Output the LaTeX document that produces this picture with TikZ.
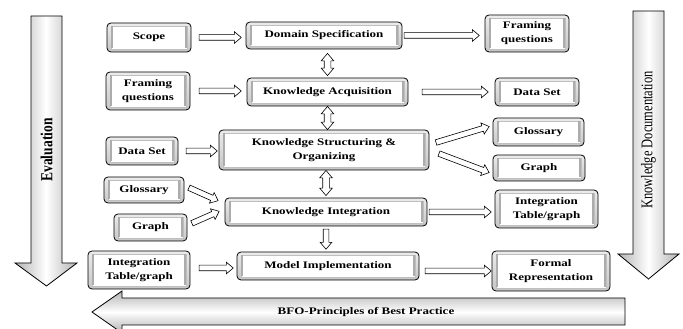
\documentclass[tikz,border=0pt]{standalone}
\usepackage{fontspec}
\setmainfont{Liberation Serif}
\newfontfamily\bfont[FakeStretch=1.3]{Liberation Serif}
\usetikzlibrary{shapes.arrows,calc}
\tikzset{
  box/.style={draw, line width=0.8pt, rounded corners=4pt, top color=gray!15, bottom color=gray!45,
    inner sep=0pt, align=center, font=\bfont\bfseries\fontsize{10}{14}\selectfont,
    path picture={
      \fill[white, sharp corners] ([shift={(4pt,3pt)}]path picture bounding box.south west) rectangle ([shift={(-4pt,-3pt)}]path picture bounding box.north east);
      \draw[gray!50, line width=0.4pt, sharp corners] ([shift={(4pt,3pt)}]path picture bounding box.south west) rectangle ([shift={(-4pt,-3pt)}]path picture bounding box.north east);
      \draw[gray!65, line width=1.8pt, sharp corners] ([shift={(5pt,3.5pt)}]path picture bounding box.south west) -- ([shift={(5pt,-3.5pt)}]path picture bounding box.north west);
      \draw[gray!65, line width=1.8pt, sharp corners] ([shift={(-5pt,3.5pt)}]path picture bounding box.south east) -- ([shift={(-5pt,-3.5pt)}]path picture bounding box.north east);
    }},
  sarr/.style={single arrow, draw, line width=0.6pt, fill=white, inner xsep=0pt, inner ysep=2.5pt,
    single arrow head extend=3pt, single arrow tip angle=80, single arrow head indent=0pt},
  darr/.style={double arrow, draw, line width=0.6pt, fill=white, inner xsep=0pt, inner ysep=3pt,
    double arrow head extend=3pt, double arrow tip angle=80, double arrow head indent=0pt},
  bigv/.style={draw, line width=0.8pt, left color=gray!60, right color=gray!60, middle color=white},
  bigh/.style={draw, line width=0.8pt, top color=gray!60, bottom color=gray!60, middle color=white},
}
\newcommand\blk[4][sarr]{\path let \p1=(#3), \p2=(#4), \n1={atan2(\y2-\y1,\x2-\x1)}, \n2={veclen(\x2-\x1,\y2-\y1)} in node[#1, minimum height=\n2, rotate=\n1] (#2) at ($(\p1)!0.5!(\p2)$) {};}
\begin{document}
\begin{tikzpicture}[x=1pt,y=1pt]
\useasboundingbox[fill=white] (0,0) rectangle (683,329);
% big arrows
\draw[bigv] (31,313) -- (62,313) -- (62,66) -- (77,66) -- (46.5,43) -- (15,66) -- (31,66) -- cycle;
\draw[bigv] (633,318) -- (664,318) -- (664,75) -- (679,75) -- (648.5,50) -- (618,75) -- (633,75) -- cycle;
\draw[bigh] (92,17) -- (122,38) -- (122,31) -- (625,31) -- (625,4) -- (122,4) -- (122,-4) -- cycle;
\node[rotate=90] (ev) at (46.5,179) {\scalebox{1}[1.25]{\fontsize{13.5}{15}\selectfont\bfseries Evaluation}};
\node[rotate=90] (kd) at (648.5,189) {\scalebox{1}[1.3]{\fontsize{12.5}{14}\selectfont Knowledge Documentation}};
\node[font=\bfont\bfseries\fontsize{10}{14}\selectfont] (bfo) at (366,17) {BFO-Principles of Best Practice};
% boxes
\node[box, minimum width=84pt, minimum height=29pt] (scope) at (149,291.5) {Scope};
\node[box, minimum width=156pt, minimum height=27pt] (dom) at (324,293.5) {Domain Specification};
\node[box, minimum width=84pt, minimum height=38pt] (fq1) at (148,238) {Framing\\questions};
\node[box, minimum width=161pt, minimum height=28pt] (acq) at (327.5,237) {Knowledge Acquisition};
\node[box, minimum width=72pt, minimum height=28pt] (ds1) at (142,178) {Data Set};
\node[box, minimum width=210pt, minimum height=40pt] (kso) at (324,179) {Knowledge Structuring \&\\Organizing};
\node[box, minimum width=84pt, minimum height=37pt] (fq2) at (527,295.5) {Framing\\questions};
\node[box, minimum width=84pt, minimum height=28pt] (ds2) at (537,237) {Data Set};
\node[box, minimum width=91pt, minimum height=28pt] (glo2) at (538.5,197) {Glossary};
\node[box, minimum width=92pt, minimum height=26pt] (gr2) at (539,161) {Graph};
\node[box, minimum width=80pt, minimum height=26pt] (glo1) at (144,139) {Glossary};
\node[box, minimum width=73pt, minimum height=27pt] (gr1) at (150.5,101.5) {Graph};
\node[box, minimum width=202pt, minimum height=28pt] (ki) at (326,117) {Knowledge Integration};
\node[box, minimum width=102pt, minimum height=38pt] (it1) at (139,59) {Integration\\Table/graph};
\node[box, minimum width=182pt, minimum height=28pt] (mi) at (328,63) {Model Implementation};
\node[box, minimum width=103pt, minimum height=38pt] (it2) at (546.5,120) {Integration\\Table/graph};
\node[box, minimum width=118pt, minimum height=40pt] (fr) at (551,58) {Formal\\Representation};
% horizontal arrows
\blk{a1}{$(scope.east)+(6,0)$}{$(dom.west |- scope.east)+(-6,0)$}
\blk{a2}{dom.east}{$(fq2.west |- dom.east)+(-7,0)$}
\blk{a3}{$(fq1.east)+(7,0)$}{$(acq.west |- fq1.east)+(-7,0)$}
\blk{a4}{$(acq.east)+(12,0)$}{$(ds2.west |- acq.east)+(-8,0)$}
\blk{a5}{$(ds1.east)+(6,0)$}{$(kso.west |- ds1.east)+(-3,0)$}
\blk{a6}{ki.east}{$(it2.west |- ki.east)+(-5,0)$}
\blk{a7}{$(it1.east)+(7,2)$}{$(mi.west |- it1.east)+(-5,2)$}
\blk{a8}{$(mi.east |- fr.west)+(4,0)$}{$(fr.west)+(-2,0)$}
% diagonal arrows
\blk{a9}{$(kso.east)+(5,7)$}{$(glo2.west)+(-5,5)$}
\blk{a10}{$(kso.east)+(8,-3)$}{$(gr2.west)+(-5,-4)$}
\blk{a11}{$(glo1.east)+(3,3)$}{$(ki.west)+(-8,12)$}
\blk{a12}{$(gr1.east)+(3,3.5)$}{$(ki.west)+(-7,0)$}
% vertical arrows
\blk[darr]{v1}{$(dom.south -| acq.north)+(0,-4)$}{$(acq.north)+(0,2)$}
\blk[darr]{v2}{acq.south}{kso.north -| acq.south}
\blk[darr]{v3}{kso.south -| ki.north}{$(ki.north)+(0,2)$}
\blk{v4}{$(ki.south)+(0,-1)$}{$(mi.north -| ki.south)+(0,4)$}
\end{tikzpicture}
\end{document}
